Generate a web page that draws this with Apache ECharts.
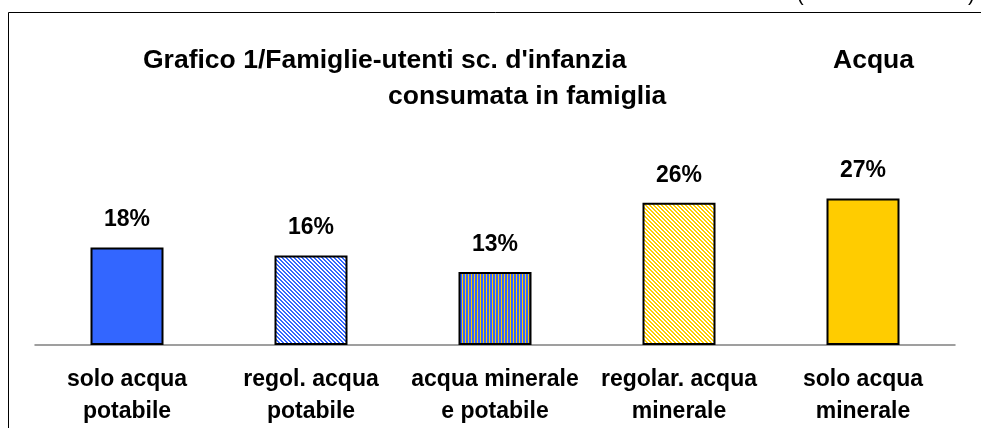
<!DOCTYPE html>
<html>
<head>
<meta charset="utf-8">
<script src="https://cdn.jsdelivr.net/npm/echarts@6/dist/echarts.min.js"></script>
<style>
  html, body { margin: 0; padding: 0; background: #fff; }
  #main { width: 981px; height: 428px; }
</style>
</head>
<body>
<div id="main"></div>
<script>
// categorie e valori (percentuali)
var categorie = ['solo acqua\npotabile', 'regol. acqua\npotabile', 'acqua minerale\ne potabile', 'regolar. acqua\nminerale', 'solo acqua\nminerale'];
var valori = [17.9, 16.4, 13.4, 26.1, 26.9];

var BLU = '#3366ff';
var GIALLO = '#ffcc00';
var FONT = 'Liberation Sans';

// piccoli pattern per i riempimenti tratteggiati
function tratteggio(colore) {
    var c = document.createElement('canvas');
    c.width = 4; c.height = 4;
    var ctx = c.getContext('2d');
    ctx.fillStyle = '#fff';
    ctx.fillRect(0, 0, 4, 4);
    ctx.fillStyle = colore;
    for (var x = 0; x < 4; x++) {
        for (var y = 0; y < 4; y++) {
            var k = ((x - y) % 4 + 4) % 4;
            if (k === 0 || k === 1) ctx.fillRect(x, y, 1, 1);
        }
    }
    return { image: c, repeat: 'repeat' };
}
function righeVerticali() {
    var c = document.createElement('canvas');
    c.width = 3; c.height = 1;
    var ctx = c.getContext('2d');
    ctx.fillStyle = GIALLO; ctx.fillRect(0, 0, 1, 1);
    ctx.fillStyle = BLU; ctx.fillRect(1, 0, 2, 1);
    return { image: c, repeat: 'repeat' };
}

var riempimenti = [BLU, tratteggio(BLU), righeVerticali(), tratteggio(GIALLO), GIALLO];

var myChart = echarts.init(document.getElementById('main'), null, { renderer: 'canvas' });
myChart.setOption({
    animation: false,
    backgroundColor: '#fff',
    title: [
        { text: "Grafico 1/Famiglie-utenti sc. d'infanzia", left: 143, top: 47, padding: 0,
          textStyle: { fontFamily: FONT, fontSize: 26.5, fontWeight: 'bold', color: '#000' } },
        { text: 'Acqua', left: 833, top: 47, padding: 0,
          textStyle: { fontFamily: FONT, fontSize: 26.5, fontWeight: 'bold', color: '#000' } },
        { text: 'consumata in famiglia', left: 388, top: 83, padding: 0,
          textStyle: { fontFamily: FONT, fontSize: 26.5, fontWeight: 'bold', color: '#000' } }
    ],
    grid: { left: 35, width: 920, top: 127, bottom: 83 },
    xAxis: {
        type: 'category',
        data: categorie,
        axisLine: { lineStyle: { color: '#808080', width: 1.5 } },
        axisTick: { show: false },
        axisLabel: {
            interval: 0, margin: 19,
            fontFamily: FONT, fontSize: 23, fontWeight: 'bold', color: '#000', lineHeight: 32
        }
    },
    yAxis: { type: 'value', min: 0, max: 40, show: false, splitLine: { show: false } },
    series: [{
        type: 'bar',
        barWidth: 73,
        data: valori.map(function (v, i) {
            return { value: v, itemStyle: { color: riempimenti[i] } };
        }),
        itemStyle: { borderColor: '#000', borderWidth: 2 },
        label: {
            show: true, position: 'top', distance: 16,
            fontFamily: FONT, fontSize: 23, fontWeight: 'bold', color: '#000',
            formatter: function (p) { return Math.round(p.value) + '%'; }
        }
    }],
    graphic: [
        { type: 'polyline', shape: { points: [[8.5, 440], [8.5, 12.5], [990, 12.5]] },
          style: { stroke: '#000', lineWidth: 1, fill: null } },
        { type: 'text', x: 797, y: 5, style: { text: '(', font: '20px ' + FONT, fill: '#000', textVerticalAlign: 'bottom' } },
        { type: 'text', x: 968, y: 5, style: { text: ')', font: '20px ' + FONT, fill: '#000', textVerticalAlign: 'bottom' } }
    ]
});
</script>
</body>
</html>
